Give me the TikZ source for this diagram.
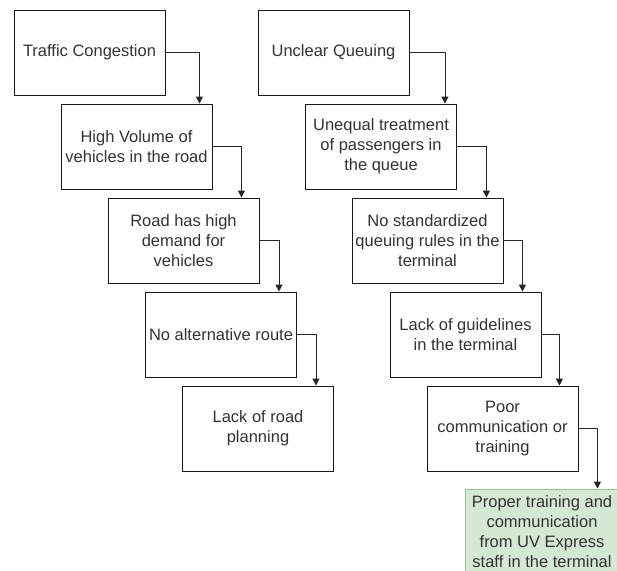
\documentclass[tikz,border=0pt]{standalone}
\usepackage{fontspec}
\setmainfont{Liberation Sans}
\usetikzlibrary{arrows.meta}
\definecolor{txt}{HTML}{333333}
\definecolor{greenfill}{HTML}{D5E8D4}
\definecolor{greenline}{HTML}{9CC293}
\begin{document}
\begin{tikzpicture}[x=1pt,y=-1pt,
  box/.style={draw=black!90, line width=0.9pt, fill=white, minimum width=151pt,
    minimum height=85pt, inner sep=0pt, align=center, text=txt,
    font=\fontsize{16.5}{20}\selectfont},
  goodbox/.style={box, draw=greenline, fill=greenfill, minimum width=154pt},
  link/.style={draw=black!85, line width=0.9pt, -{Triangle[length=7pt,width=7pt]}}]
\useasboundingbox (0,0) rectangle (617,570);
\fill[white] (0,0) rectangle (617,570);
\begin{scope}
\clip (0,0) rectangle (617,570);
% left chain
\node[box] (b1) at (89.5,52.5) {Traffic Congestion};
\node[box] (b2) at (136.5,146.5) {High Volume of\\vehicles in the road};
\node[box] (b3) at (183.5,240.5) {Road has high\\demand for\\vehicles};
\node[box] (b4) at (221,334.5) {No alternative route};
\node[box] (b5) at (258,428.5) {Lack of road\\planning};
% right chain
\node[box] (a1) at (333.5,52.5) {Unclear Queuing};
\node[box] (a2) at (381,146.5) {Unequal treatment\\of passengers in\\the queue};
\node[box] (a3) at (427.5,240.5) {No standardized\\queuing rules in the\\terminal};
\node[box] (a4) at (465.5,334.5) {Lack of guidelines\\in the terminal};
\node[box] (a5) at (502.5,428.5) {Poor\\communication or\\training};
\node[goodbox] (a6) at (542,531.5) {Proper training and\\communication\\from UV Express\\staff in the terminal};
% connectors
\draw[link] (b1.east) -| ([xshift=-13pt]b2.north east);
\draw[link] (b2.east) -| ([xshift=-18pt]b3.north east);
\draw[link] (b3.east) -| ([xshift=-18pt]b4.north east);
\draw[link] (b4.east) -| ([xshift=-18pt]b5.north east);
\draw[link] (a1.east) -| ([xshift=-12pt]a2.north east);
\draw[link] (a2.east) -| ([xshift=-17pt]a3.north east);
\draw[link] (a3.east) -| ([xshift=-19pt]a4.north east);
\draw[link] (a4.east) -| ([xshift=-19pt]a5.north east);
\draw[link] (a5.east) -| ([xshift=-22pt]a6.north east);
\end{scope}
\end{tikzpicture}
\end{document}
